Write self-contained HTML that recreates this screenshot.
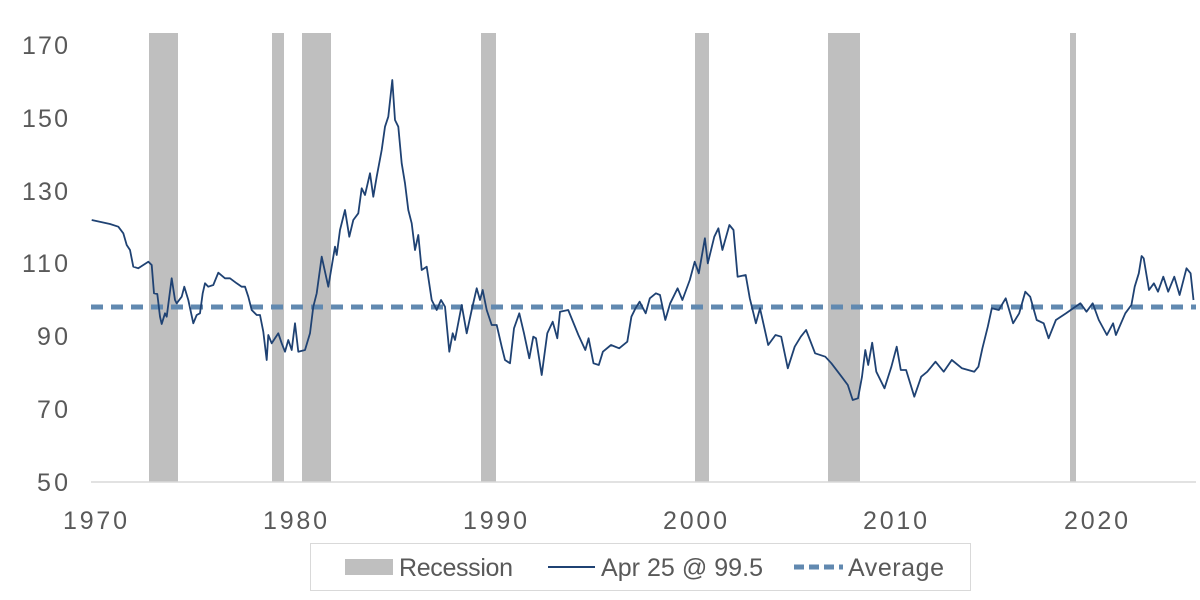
<!DOCTYPE html>
<html><head><meta charset="utf-8"><style>
html,body{margin:0;padding:0;background:#fff;}
svg{display:block;font-family:"Liberation Sans",sans-serif;}
</style></head><body>
<svg id="s" width="1200" height="600" viewBox="0 0 1200 600" xmlns="http://www.w3.org/2000/svg">
<g fill="#bfbfbf">
<rect x="149" y="33" width="29" height="449"/>
<rect x="272" y="33" width="12" height="449"/>
<rect x="302" y="33" width="29" height="449"/>
<rect x="481" y="33" width="15" height="449"/>
<rect x="695" y="33" width="14" height="449"/>
<rect x="828" y="33" width="32" height="449"/>
<rect x="1070" y="33" width="6" height="449"/>
</g>
<line x1="91" y1="482" x2="1196" y2="482" stroke="#d9d9d9" stroke-width="1.5"/>
<line x1="91" y1="307" x2="1196" y2="307" stroke="#6189b0" stroke-width="5" stroke-dasharray="12,8"/>
<path id="p" fill="none" stroke="#1f4273" stroke-width="1.8" stroke-linejoin="round"/>
<g fill="#595959" font-size="25" text-anchor="end">
<text x="68" y="54" textLength="46">170</text>
<text x="68" y="127" textLength="46">150</text>
<text x="68" y="200" textLength="46">130</text>
<text x="68" y="272" textLength="46">110</text>
<text x="68" y="345" textLength="31">90</text>
<text x="68" y="418" textLength="31">70</text>
<text x="68" y="491" textLength="31">50</text>
</g>
<g fill="#595959" font-size="25" text-anchor="middle">
<text x="95" y="529" textLength="64">1970</text>
<text x="295" y="529" textLength="64">1980</text>
<text x="495" y="529" textLength="64">1990</text>
<text x="695" y="529" textLength="64">2000</text>
<text x="895" y="529" textLength="64">2010</text>
<text x="1096" y="529" textLength="64">2020</text>
</g>
<rect x="310.5" y="543.5" width="660" height="47" fill="#fff" stroke="#d9d9d9"/>
<rect x="345" y="559" width="48" height="16" fill="#bfbfbf"/>
<text x="399" y="576" font-size="25" fill="#595959" textLength="114">Recession</text>
<line x1="548" y1="567" x2="595" y2="567" stroke="#1f4273" stroke-width="2"/>
<text x="601" y="576" font-size="25" fill="#595959" textLength="162">Apr 25 @ 99.5</text>
<line x1="794" y1="567" x2="843" y2="567" stroke="#6189b0" stroke-width="5" stroke-dasharray="10,5"/>
<text x="848" y="576" font-size="25" fill="#595959" textLength="96">Average</text>
</svg>
<script>
var z1=[[95,600],[150,612],[175,620],[190,640],[200,675],[210,690],[220,740],[235,745],[265,725],[275,735],[282,820],[292,822],[300,890],[305,912],[315,880],[320,890],[335,775],[345,840],[350,850],[365,830],[373,800],[385,840],[400,910],[410,885],[420,880],[428,820],[435,790],[445,800],[460,795],[475,758],[495,775],[510,775],[530,790],[545,800],[555,800],[565,830],[575,870],[590,885],[600,885],[610,935],[620,1020],[625,945],[635,970],[655,940],[665,970],[675,995],[685,960],[695,990],[705,910],[715,995],[735,990],[750,940],[760,860],[770,820],[785,710],[805,800],[825,680],[830,705],[840,630],[855,570],[868,650],[880,600],[895,580],[905,505],[915,525],[930,460],[940,530],[950,470],[965,390],[975,320],[985,290],[997,180],[1005,300],[1015,320],[1025,430],[1035,490],[1045,570],[1055,610],[1065,690],[1075,645],[1085,750],[1100,740],[1115,840],[1130,870],[1143,840],[1155,860],[1168,995],[1178,940],[1185,960],[1205,855],[1220,940],[1235,870],[1250,805],[1260,840],[1268,810],[1280,870],[1295,915],[1310,915],[1325,980],[1335,1020],[1350,1030],[1362,925],[1378,880],[1392,940],[1408,1015],[1420,950],[1428,955],[1445,1065],[1462,940],[1478,905],[1492,955]];
var z2=[[0,395],[20,390],[45,465],[62,510],[70,475],[82,550],[95,555],[105,515],[125,495],[145,505],[165,485],[175,410],[185,385],[195,365],[210,400],[220,355],[235,340],[245,345],[258,420],[270,370],[288,325],[300,360],[318,300],[330,245],[340,280],[355,175],[362,250],[378,170],[388,145],[398,210],[415,135],[425,150],[435,290],[455,285],[465,355],[480,430],[490,385],[510,495],[528,465],[542,470],[558,565],[575,500],[590,470],[603,450],[625,520],[650,530],[665,550],[690,590],[705,615],[717,660],[730,655],[740,590],[748,510],[755,555],[765,488],[775,575],[795,625],[812,560],[825,500],[835,570],[848,570],[868,650],[885,590],[900,575],[920,545],[940,575],[960,540],[985,565],[1015,575],[1025,560],[1035,505],[1048,440],[1058,385],[1075,390],[1092,355],[1110,430],[1125,400],[1140,335],[1152,350],[1168,420],[1185,430],[1197,475],[1215,420],[1240,400],[1275,370],[1290,395],[1305,370],[1320,420],[1340,465],[1355,430],[1362,465],[1385,400],[1400,375],[1408,320],[1418,280],[1425,228],[1430,235],[1443,330],[1455,310],[1465,335],[1478,290],[1490,335],[1505,290],[1518,345],[1535,265],[1545,280],[1552,360]];
var pts=[];
z1.forEach(function(p){pts.push([60+p[0]/3,20+p[1]/3]);});
z2.forEach(function(p){pts.push([560+p[0]/2.45,180+p[1]/3]);});
document.getElementById('p').setAttribute('d','M'+pts.map(function(p){return p[0].toFixed(1)+','+p[1].toFixed(1);}).join(' L'));
</script>
</body></html>
